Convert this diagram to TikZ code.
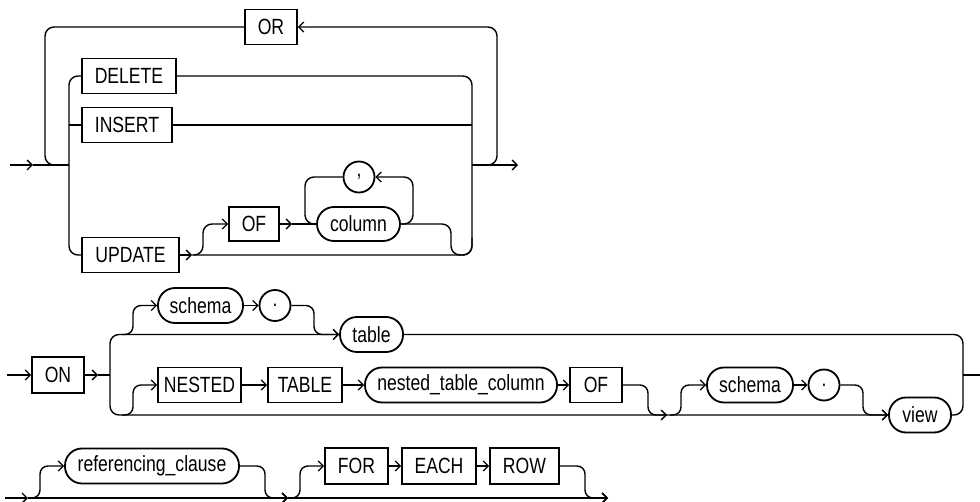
\documentclass[tikz,border=0pt]{standalone}
\usepackage{fontspec}
\setmainfont{Liberation Sans}[FakeStretch=0.8]
\usetikzlibrary{arrows.meta}
\begin{document}
\begin{tikzpicture}[x=1pt,y=-1pt,
  line width=1.4pt,
  every node/.style={font=\fontsize{22}{25}\selectfont},
  kw/.style={draw, line width=1.8pt, minimum height=35pt, inner sep=0pt, anchor=center},
  pill/.style={kw, rounded corners=17pt},
  dotc/.style={draw, line width=1.8pt, circle, minimum size=31pt, inner sep=0pt},
  arr/.style={-{Straight Barb[length=5pt,width=10pt,line width=1.3pt]}},
  rc/.style={rounded corners=9pt}]
\useasboundingbox (0,0) rectangle (980,502);

% ---------------- Row 1 ----------------
\node[kw, minimum width=52pt] (OR) at (271,27) {OR};
\node[kw, minimum width=94pt] (DEL) at (129,76) {DELETE};
\node[kw, minimum width=90pt] (INS) at (127,125) {INSERT};
\node[kw, minimum width=97pt] (UPD) at (130.5,255) {UPDATE};
\node[kw, minimum width=50pt, minimum height=34pt] (OF) at (254,224) {OF};
\node[pill, minimum width=83pt, minimum height=34pt] (col) at (358.5,224) {column};
\node[dotc] (comma) at (359,177) {,};

\coordinate (in1) at (10,165);
\coordinate (a1) at (33,165);
\coordinate (jl) at (69,165);
\coordinate (jr) at (472,165);
\coordinate (out1) at (518,165);
\coordinate (ua) at (192,255);

\draw[arr] (in1) -- (a1);
\draw (a1) -- (jl);
% outer OR loop
\draw[rc] (OR.west) -| (45,165) -- (60,165);
\draw[arr,rc] (487,165) -| (497,27) -- (OR.east);
% inner left
\draw[rc] (DEL.west) -| (69,255) -- (UPD.west);
\draw (INS.west) -- (69,125);
% inner right
\draw[rc] (DEL.east) -| (472,255) -- (ua);
\draw (INS.east) -- (472,125);
\draw[arr] (jr) -- (out1);
% update part
\draw[arr] (UPD.east) -- (ua);
\draw[arr,rc] (194,255) -| (203,224) -- (OF.west);
\draw[arr] (OF.east) -- (292,224);
\draw (292,224) -- (col.west);
\draw[rc] (col.west) -| (305,177) -- (comma.west);
\draw[arr,rc] (col.east) -| (413,177) -- (comma.east);
\draw[rc] (col.east) -| (451,255) -| (472,238);

% ---------------- Row 2 ----------------
\node[kw, minimum width=52pt, minimum height=36pt] (ON) at (58,375) {ON};
\node[pill, minimum width=85pt] (sch) at (200.5,305.5) {schema};
\node[dotc] (dot) at (275,305.5) {.};
\node[pill, minimum width=63pt] (tab) at (371.5,334.5) {table};
\node[kw, minimum width=83pt] (NES) at (199.5,385) {NESTED};
\node[kw, minimum width=74pt] (TAB) at (305,385) {TABLE};
\node[pill, minimum width=192pt] (ntc) at (461,385) {nested\_table\_column};
\node[kw, minimum width=52pt] (OF2) at (596,385) {OF};
\node[pill, minimum width=86pt] (sch2) at (750,385) {schema};
\node[dotc] (dot2) at (824,385) {.};
\node[pill, minimum width=62pt] (view) at (920,415) {view};

\coordinate (in2) at (7,375);
\coordinate (a2) at (98,375);
\coordinate (v2) at (110,375);
\coordinate (out2) at (980,375);

\draw[arr] (in2) -- (ON.west);
\draw[arr] (ON.east) -- (a2);
\draw (a2) -- (v2);
\draw[arr,rc] (v2) |- (tab.west);
\draw[arr,rc] (v2) |- (view.west);
\draw[arr,rounded corners=8pt] (122,334.5) -| (133,305.5) -- (sch.west);
\draw[arr] (sch.east) -- (dot.west);
\draw[arr,rounded corners=8pt] (dot.east) -| (314,334.5) -- (tab.west);
\draw[arr,rounded corners=8pt] (122,415) -| (133,385) -- (NES.west);
\draw[arr] (NES.east) -- (TAB.west);
\draw[arr] (TAB.east) -- (ntc.west);
\draw[arr] (ntc.east) -- (OF2.west);
\draw[arr,rounded corners=8pt] (OF2.east) -| (648,415) -- (667,415);
\draw[arr,rounded corners=8pt] (670,415) -| (681,385) -- (sch2.west);
\draw[arr] (sch2.east) -- (dot2.west);
\draw[arr,rounded corners=8pt] (dot2.east) -| (863,415) -- (view.west);
\draw[rc] (tab.east) -| (963,415) -- (view.east);
\draw (963,375) -- (out2);

% ---------------- Row 3 ----------------
\node[pill, minimum width=174pt] (ref) at (152,466) {referencing\_clause};
\node[kw, minimum width=63pt, minimum height=36pt] (FOR) at (356.5,466) {FOR};
\node[kw, minimum width=74pt, minimum height=36pt] (EACH) at (439,466) {EACH};
\node[kw, minimum width=69pt, minimum height=36pt] (ROW) at (524.5,466) {ROW};

\coordinate (in3) at (5,498);
\coordinate (a3) at (28,498);
\coordinate (b3) at (288,498);
\coordinate (out3) at (608,498);

\draw[arr] (in3) -- (a3);
\draw[arr] (a3) -- (b3);
\draw[arr] (b3) -- (out3);
\draw[arr,rounded corners=8pt] (30,498) -| (40,466) -- (ref.west);
\draw[arr,rounded corners=8pt] (ref.east) -| (265,498) -- (b3);
\draw[arr,rounded corners=8pt] (290,498) -| (300,466) -- (FOR.west);
\draw[arr] (FOR.east) -- (EACH.west);
\draw[arr] (EACH.east) -- (ROW.west);
\draw[arr,rounded corners=8pt] (ROW.east) -| (585,498) -- (out3);
\end{tikzpicture}
\end{document}
